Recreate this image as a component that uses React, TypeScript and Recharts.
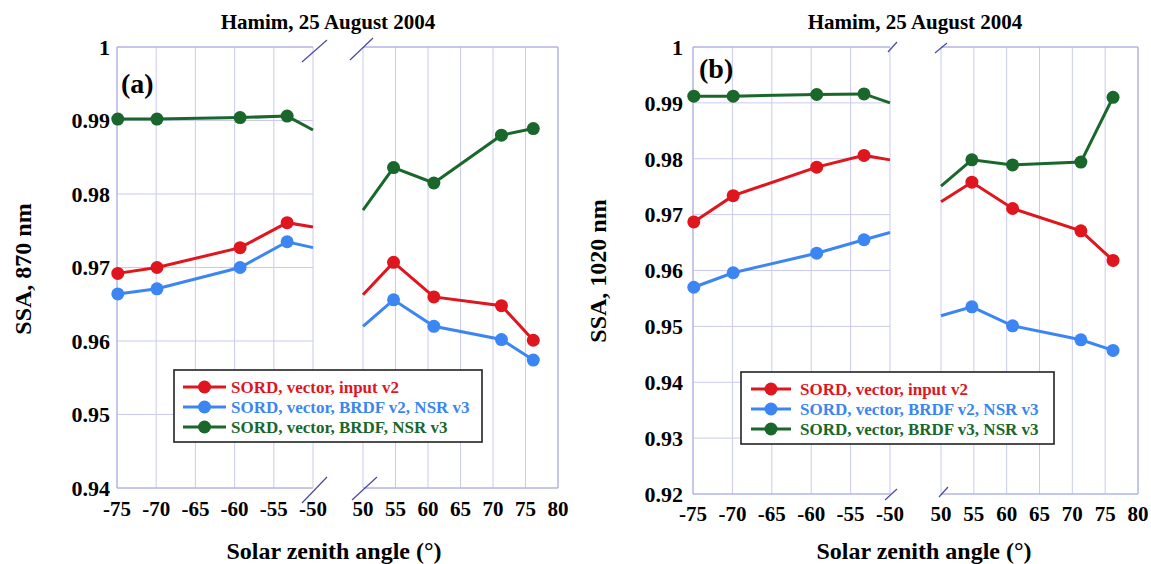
import React from "react";
import { LineChart, Line, XAxis, YAxis, CartesianGrid } from "recharts";

const W = 1151;
const H = 564;

// solar zenith angles of the retrievals (morning negative, afternoon positive)
const szaMorning = [-74.9, -69.9, -59.3, -53.3];
const szaAfternoon = [54.7, 60.9, 71.3, 76.2];
// where the connecting segments are cut by the axis break
const szaCut = [-50, 50];

// (a) SSA at 870 nm
const a870Red = [0.9692, 0.97, 0.9727, 0.9761];
const a870RedPm = [0.9707, 0.966, 0.9648, 0.9601];
const a870RedCut = [0.9755, 0.9663];
const a870Blue = [0.9664, 0.9671, 0.97, 0.9735];
const a870BluePm = [0.9656, 0.962, 0.9602, 0.9574];
const a870BlueCut = [0.9727, 0.962];
const a870Green = [0.9902, 0.9902, 0.9904, 0.9906];
const a870GreenPm = [0.9836, 0.9815, 0.988, 0.9889];
const a870GreenCut = [0.9887, 0.9778];

// (b) SSA at 1020 nm
const b1020Red = [0.9687, 0.9734, 0.9785, 0.9806];
const b1020RedPm = [0.9758, 0.9711, 0.9671, 0.9618];
const b1020RedCut = [0.9798, 0.9723];
const b1020Blue = [0.957, 0.9596, 0.9631, 0.9655];
const b1020BluePm = [0.9535, 0.9501, 0.9476, 0.9457];
const b1020BlueCut = [0.9668, 0.9519];
const b1020Green = [0.9912, 0.9912, 0.9915, 0.9916];
const b1020GreenPm = [0.9798, 0.9789, 0.9794, 0.991];
const b1020GreenCut = [0.99, 0.9751];

const xTicksLeft = [-75, -70, -65, -60, -55, -50];
const xTicksRight = [50, 55, 60, 65, 70, 75, 80];
const yTicksA = [0.94, 0.95, 0.96, 0.97, 0.98, 0.99, 1];
const yTicksB = [0.92, 0.93, 0.94, 0.95, 0.96, 0.97, 0.98, 0.99, 1];

const namesA = ["SORD, vector, input v2", "SORD, vector, BRDF v2, NSR v3", "SORD, vector, BRDF, NSR v3"];
const namesB = ["SORD, vector, input v2", "SORD, vector, BRDF v2, NSR v3", "SORD, vector, BRDF v3, NSR v3"];

const RED = "#e0161e";
const BLUE = "#3b86f2";
const GREEN = "#19672a";
const GRID = "#cacaf0";
const AXIS = "#a8a8e2";
const TICK = "#8e8ed2";
const FONT = "Liberation Serif";

function steps(lo: number, hi: number, step: number) {
  const out: number[] = [];
  const n = Math.round((hi - lo) / step);
  for (let i = 0; i <= n; i++) out.push(+(lo + i * step).toFixed(4));
  return out;
}

type Row = { x: number; red: number; blue: number; green: number; cut?: boolean };

function morningRows(r: number[], b: number[], g: number[], cut: number[][]): Row[] {
  const rows: Row[] = szaMorning.map((x, i) => ({ x, red: r[i], blue: b[i], green: g[i] }));
  rows.push({ x: szaCut[0], red: cut[0][0], blue: cut[1][0], green: cut[2][0], cut: true });
  return rows;
}

function afternoonRows(r: number[], b: number[], g: number[], cut: number[][]): Row[] {
  const rows: Row[] = [{ x: szaCut[1], red: cut[0][1], blue: cut[1][1], green: cut[2][1], cut: true }];
  szaAfternoon.forEach((x, i) => rows.push({ x, red: r[i], blue: b[i], green: g[i] }));
  return rows;
}

const dotFor = (color: string) => (p: any) => {
  if (p.payload && p.payload.cut) return <g key={`c${p.index}`} />;
  return <circle key={`d${p.index}`} cx={p.cx} cy={p.cy} r={6.5} fill={color} stroke="none" />;
};

type Box = { left: number; top: number; right: number; bottom: number };

function SubPlot(props: {
  rows: Row[];
  xTicks: number[];
  yTicks: number[];
  box: Box;
  side: "left" | "right";
  xMargin: number;
  yMargin: number;
}) {
  const { rows, xTicks, yTicks, box, side, xMargin, yMargin } = props;
  const xDomain: [number, number] = [xTicks[0], xTicks[xTicks.length - 1]];
  const yDomain: [number, number] = [yTicks[0], yTicks[yTicks.length - 1]];
  const yW = 60;
  const xH = 40;
  const minorX = steps(xDomain[0], xDomain[1], 1);
  const minorY = steps(yDomain[0], yDomain[1], 0.002);
  const tickFont = { fontFamily: FONT, fontWeight: 700, fill: "#000" };
  return (
    <div style={{ position: "absolute", left: 0, top: 0 }}>
      <LineChart
        width={W}
        height={H}
        data={rows}
        margin={{
          left: box.left - (side === "left" ? yW : 0),
          top: box.top,
          right: W - box.right,
          bottom: H - box.bottom - xH,
        }}
      >
        <CartesianGrid stroke={GRID} strokeWidth={1} />
        <XAxis
          dataKey="x"
          type="number"
          domain={xDomain}
          ticks={xTicks}
          interval={0}
          height={xH}
          tickSize={0}
          tickMargin={xMargin}
          tickLine={false}
          axisLine={{ stroke: AXIS }}
          tick={{ ...tickFont, fontSize: 21 }}
        />
        <XAxis
          xAxisId="top"
          dataKey="x"
          type="number"
          orientation="top"
          mirror
          domain={xDomain}
          ticks={minorX}
          interval={0}
          tick={false}
          tickSize={4}
          tickLine={{ stroke: TICK }}
          axisLine={{ stroke: AXIS }}
        />
        <XAxis
          xAxisId="bm"
          dataKey="x"
          type="number"
          orientation="bottom"
          mirror
          domain={xDomain}
          ticks={minorX}
          interval={0}
          tick={false}
          tickSize={4}
          tickLine={{ stroke: TICK }}
          axisLine={false}
        />
        {side === "left" ? (
          <YAxis
            type="number"
            domain={yDomain}
            ticks={yTicks}
            interval={0}
            width={yW}
            tickSize={0}
            tickMargin={yMargin}
            tickLine={false}
            axisLine={{ stroke: AXIS }}
            tickFormatter={(v: number) => (v === 1 ? "1" : v.toFixed(2))}
            tick={{ ...tickFont, fontSize: 22 }}
          />
        ) : (
          <YAxis
            type="number"
            mirror
            domain={yDomain}
            ticks={yTicks}
            interval={0}
            tick={false}
            tickLine={false}
            axisLine={false}
          />
        )}
        <YAxis
          yAxisId="minor"
          type="number"
          orientation={side}
          mirror
          domain={yDomain}
          ticks={minorY}
          interval={0}
          tick={false}
          tickSize={4}
          tickLine={{ stroke: TICK }}
          axisLine={side === "right" ? { stroke: AXIS } : false}
        />
        <Line dataKey="red" type="linear" stroke={RED} strokeWidth={3} dot={dotFor(RED)} isAnimationActive={false} />
        <Line dataKey="blue" type="linear" stroke={BLUE} strokeWidth={3} dot={dotFor(BLUE)} isAnimationActive={false} />
        <Line dataKey="green" type="linear" stroke={GREEN} strokeWidth={3} dot={dotFor(GREEN)} isAnimationActive={false} />
      </LineChart>
    </div>
  );
}

function LegendBox(props: { x: number; y: number; w: number; h: number; names: string[]; textX: number; lineX: number[]; rowY: number[] }) {
  const colors = [RED, BLUE, GREEN];
  const { x, y, w, h, names, textX, lineX, rowY } = props;
  return (
    <g>
      <rect x={x} y={y} width={w} height={h} fill="#fff" stroke="#222" strokeWidth={1.6} />
      {names.map((n, i) => (
        <g key={n + i}>
          <line x1={lineX[0]} x2={lineX[1]} y1={rowY[i]} y2={rowY[i]} stroke={colors[i]} strokeWidth={3} />
          <circle cx={(lineX[0] + lineX[1]) / 2} cy={rowY[i]} r={6.5} fill={colors[i]} />
          <text x={textX} y={rowY[i] + 6} fontFamily={FONT} fontWeight={700} fontSize={17} fill={colors[i]}>
            {n}
          </text>
        </g>
      ))}
    </g>
  );
}

function BreakMark(props: { x1: number; y1: number; x2: number; y2: number }) {
  return <line {...props} stroke="#4848a6" strokeWidth={1.2} />;
}

export default function App() {
  const boxAL: Box = { left: 117, top: 47, right: 313, bottom: 488 };
  const boxAR: Box = { left: 363, top: 47, right: 558, bottom: 488 };
  const boxBL: Box = { left: 693, top: 47, right: 890, bottom: 494 };
  const boxBR: Box = { left: 941, top: 47, right: 1138, bottom: 494 };
  const cutA = [a870RedCut, a870BlueCut, a870GreenCut];
  const cutB = [b1020RedCut, b1020BlueCut, b1020GreenCut];
  const txt = { fontFamily: FONT, fontWeight: 700, fill: "#000" } as const;
  return (
    <div style={{ position: "absolute", left: 0, top: 0, width: W, height: H, background: "#fff" }}>
      <SubPlot rows={morningRows(a870Red, a870Blue, a870Green, cutA)} xTicks={xTicksLeft} yTicks={yTicksA} box={boxAL} side="left" xMargin={13} yMargin={7} />
      <SubPlot rows={afternoonRows(a870RedPm, a870BluePm, a870GreenPm, cutA)} xTicks={xTicksRight} yTicks={yTicksA} box={boxAR} side="right" xMargin={13} yMargin={7} />
      <SubPlot rows={morningRows(b1020Red, b1020Blue, b1020Green, cutB)} xTicks={xTicksLeft} yTicks={yTicksB} box={boxBL} side="left" xMargin={12} yMargin={10} />
      <SubPlot rows={afternoonRows(b1020RedPm, b1020BluePm, b1020GreenPm, cutB)} xTicks={xTicksRight} yTicks={yTicksB} box={boxBR} side="right" xMargin={12} yMargin={10} />
      <svg width={W} height={H} style={{ position: "absolute", left: 0, top: 0, pointerEvents: "none" }}>
        <text x={328} y={29} textAnchor="middle" fontSize={21} {...txt}>Hamim, 25 August 2004</text>
        <text x={915} y={29} textAnchor="middle" fontSize={21} {...txt}>Hamim, 25 August 2004</text>
        <text x={121} y={93} fontSize={28} {...txt}>(a)</text>
        <text x={699} y={78} fontSize={28} {...txt}>(b)</text>
        <text x={334} y={559} textAnchor="middle" fontSize={24} {...txt}>Solar zenith angle (°)</text>
        <text x={924} y={559} textAnchor="middle" fontSize={24} {...txt}>Solar zenith angle (°)</text>
        <text x={31} y={269} textAnchor="middle" fontSize={24} transform="rotate(-90 31 269)" {...txt}>SSA, 870 nm</text>
        <text x={606} y={271} textAnchor="middle" fontSize={24} transform="rotate(-90 606 271)" {...txt}>SSA, 1020 nm</text>

        <BreakMark x1={302} y1={62} x2={327} y2={40} />
        <BreakMark x1={350} y1={60} x2={373} y2={38} />
        <BreakMark x1={302} y1={503} x2={327} y2={477} />
        <BreakMark x1={352} y1={500} x2={377} y2={477} />
        <BreakMark x1={888} y1={52} x2={897} y2={42} />
        <BreakMark x1={935} y1={53} x2={947} y2={43} />
        <BreakMark x1={885} y1={500} x2={897} y2={489} />
        <BreakMark x1={939} y1={497} x2={948} y2={487} />

        <LegendBox x={174} y={370} w={308} h={72} names={namesA} textX={231} lineX={[183, 226]} rowY={[387, 407, 427]} />
        <LegendBox x={741} y={372} w={313} h={72} names={namesB} textX={800} lineX={[751, 791]} rowY={[389, 409, 429]} />
      </svg>
    </div>
  );
}
